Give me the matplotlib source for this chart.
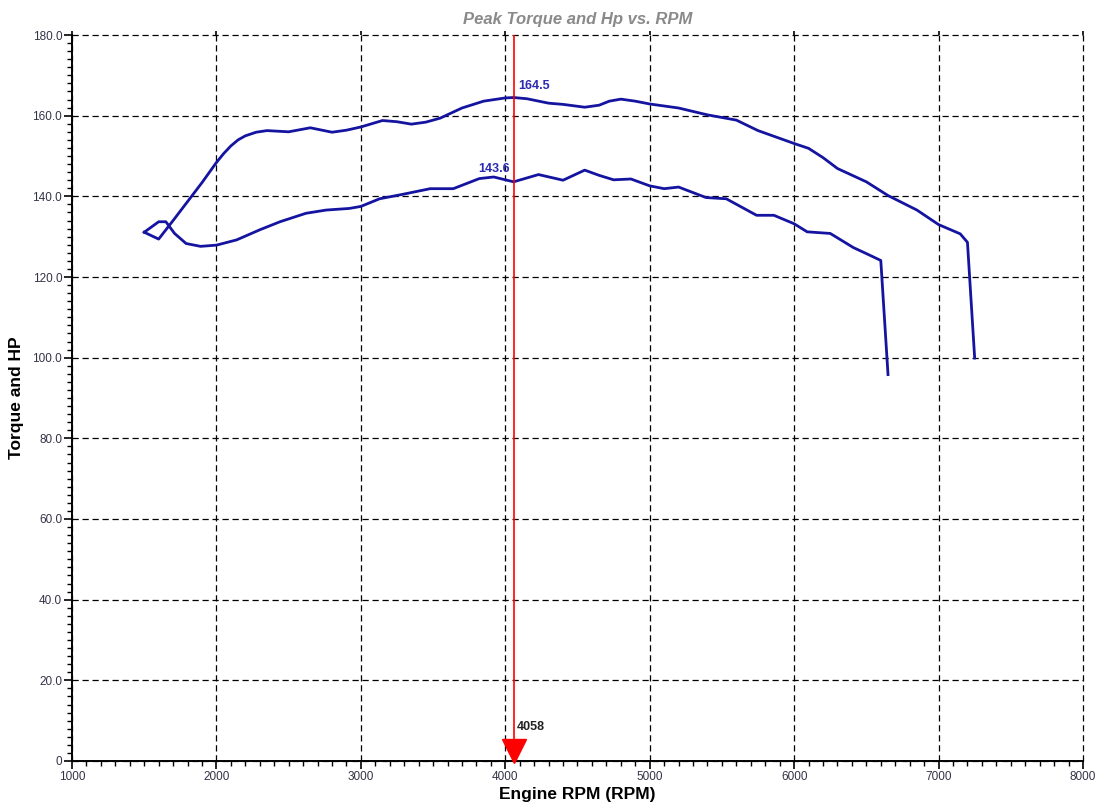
import numpy as np
import matplotlib
matplotlib.use("Agg")
from matplotlib import pyplot as plt
from matplotlib.ticker import MultipleLocator, FuncFormatter
from matplotlib.transforms import offset_copy

plt.rcParams["font.family"] = ["Liberation Sans", "DejaVu Sans"]

# dyno pull, upper trace (torque)
torque_rpm = [1500, 1600, 1700, 1800, 1900, 1950, 2000, 2050, 2100, 2150, 2200, 2275, 2350,
              2500, 2650, 2800, 2900, 3000, 3150, 3250, 3350, 3450, 3550, 3700, 3850, 4000,
              4058, 4150, 4300, 4400, 4550, 4650, 4720, 4800, 4900, 5000, 5200, 5400, 5600,
              5750, 6000, 6100, 6200, 6300, 6500, 6650, 6850, 7000, 7150, 7200, 7250]
torque = [131.1, 129.4, 134.0, 138.7, 143.4, 145.9, 148.4, 150.6, 152.5, 154.0, 155.0, 155.9,
          156.3, 156.0, 157.0, 155.9, 156.4, 157.2, 158.8, 158.5, 157.9, 158.4, 159.4, 161.9,
          163.6, 164.4, 164.5, 164.2, 163.1, 162.8, 162.1, 162.6, 163.6, 164.1, 163.6, 162.9,
          161.9, 160.2, 158.9, 156.3, 153.1, 151.9, 149.6, 146.9, 143.6, 140.2, 136.6, 133.0,
          130.7, 128.6, 99.9]

# lower trace (hp)
hp_rpm = [1500, 1600, 1650, 1710, 1790, 1890, 2000, 2140, 2300, 2440, 2620, 2760,
          2920, 3000, 3130, 3290, 3480, 3640, 3820, 3920, 4000, 4058, 4230, 4400,
          4550, 4650, 4750, 4870, 5000, 5100, 5200, 5390, 5530, 5740, 5860, 6000,
          6090, 6250, 6410, 6500, 6600, 6650]
hp = [131.1, 133.7, 133.7, 130.8, 128.3, 127.6, 127.9, 129.2, 131.7, 133.7, 135.8, 136.6,
      137.0, 137.5, 139.4, 140.5, 141.9, 141.9, 144.4, 144.8, 144.1, 143.6, 145.4, 144.0,
      146.5, 145.2, 144.1, 144.3, 142.6, 141.9, 142.3, 139.7, 139.4, 135.3, 135.3, 133.2,
      131.2, 130.8, 127.3, 125.8, 124.1, 95.8]

cursor_rpm = 4058
cursor_torque = 164.5
cursor_hp = 143.6

line_color = "#1414a0"
label_color = "#2a2ab4"
tick_color = "#333348"

fig = plt.figure(figsize=(11.06, 8.05), dpi=100)
ax = fig.add_axes([0.0651, 0.0547, 0.9141, 0.9018])

ax.plot(torque_rpm, torque, color=line_color, lw=2.0, solid_joinstyle="round", zorder=3)
ax.plot(hp_rpm, hp, color=line_color, lw=2.0, solid_joinstyle="round", zorder=3)

ax.set_xlim(1000, 8000)
ax.set_ylim(0, 180)

ax.xaxis.set_major_locator(MultipleLocator(1000))
ax.xaxis.set_minor_locator(MultipleLocator(100))
ax.yaxis.set_major_locator(MultipleLocator(20))
ax.yaxis.set_minor_locator(MultipleLocator(2))
ax.yaxis.set_major_formatter(FuncFormatter(lambda v, p: "0" if v == 0 else "%.1f" % v))

ax.grid(True, which="major", color="black", linestyle=(0, (5, 3)), linewidth=0.9)
for gl in ax.get_xgridlines() + ax.get_ygridlines():
    gl.set_clip_on(False)
for side in ("top", "right"):
    ax.spines[side].set_visible(False)
for side in ("left", "bottom"):
    ax.spines[side].set_linewidth(1.4)

ax.tick_params(which="major", length=6, width=1.2, labelsize=8.5, labelcolor=tick_color, pad=1)
ax.tick_params(which="minor", length=3.5, width=1.0)
ax.tick_params(axis="x", which="major", top=True, labeltop=False)
for t in ax.xaxis.get_major_ticks():
    t.tick2line.set_markersize(3)

ax.set_title("Peak Torque and Hp vs. RPM", fontsize=12, fontweight="bold", style="italic",
             color="#8a8a8a", pad=8)
ax.set_xlabel("Engine RPM (RPM)", fontsize=12.5, fontweight="bold", labelpad=3)
ax.set_ylabel("Torque and HP", fontsize=12.5, fontweight="bold", labelpad=6)

# cursor line with marker at the axis
ax.axvline(cursor_rpm, color="red", lw=1.2, zorder=4)
tri_trans = offset_copy(ax.transData, fig=fig, y=7.5, units="points")
ax.plot([cursor_rpm], [0], marker="v", markersize=17, color="red", transform=tri_trans,
        clip_on=False, zorder=5)
ax.annotate(str(cursor_rpm), (cursor_rpm, 0), xytext=(2, 20), textcoords="offset points",
            fontsize=9, fontweight="bold", color="#222222", ha="left", va="bottom")

ax.annotate("%.1f" % cursor_torque, (cursor_rpm, cursor_torque), xytext=(3, 4),
            textcoords="offset points", fontsize=9, fontweight="bold", color=label_color,
            ha="left", va="bottom")
ax.annotate("%.1f" % cursor_hp, (cursor_rpm, cursor_hp), xytext=(-3, 5),
            textcoords="offset points", fontsize=9, fontweight="bold", color=label_color,
            ha="right", va="bottom")

fig.savefig("out.png", dpi=100)
